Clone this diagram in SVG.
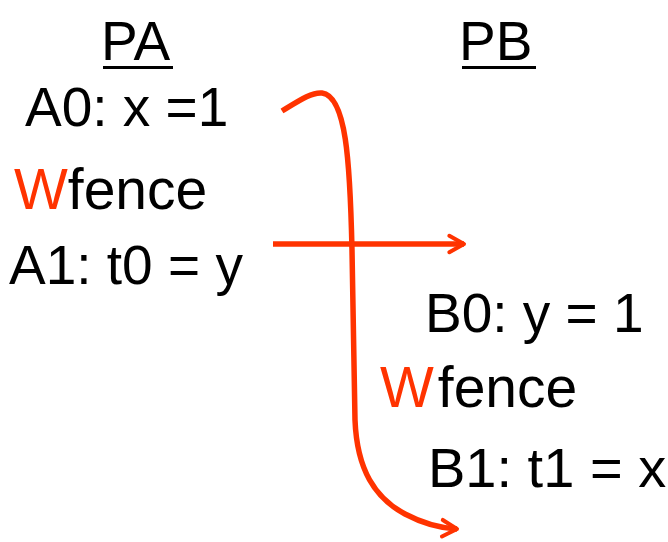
<svg xmlns="http://www.w3.org/2000/svg" width="668" height="542" viewBox="0 0 668 542">
<style>
text{font-family:"Liberation Sans",Arial,sans-serif;font-size:55px;fill:#000}
.w{font-size:57px}
.r{fill:#ff3300}
.c{fill:none;stroke:#ff3300;stroke-width:5.5;stroke-linecap:butt}
</style>
<defs>
<marker id="ah" viewBox="0 0 12 12" refX="10" refY="6" markerWidth="4" markerHeight="4" markerUnits="strokeWidth" orient="auto">
<path d="M2,1.5 L10,6 L2,10.5" fill="none" stroke="#ff3300" stroke-width="2.2" stroke-linecap="round" stroke-linejoin="round"/>
</marker>
</defs>
<rect width="668" height="542" fill="#fff"/>
<g id="pa"><text x="101" y="60">PA</text><rect x="103" y="66" width="70" height="3"/></g>
<g id="pb"><text x="459" y="60">PB</text><rect x="462" y="66" width="74" height="3"/></g>
<g id="a0"><text x="25" y="126">A0: x =1</text></g>
<g id="wfa"><text class="w" x="14" y="209"><tspan class="r">W</tspan>fence</text></g>
<g id="a1"><text x="9" y="284">A1: t0 = y</text></g>
<g id="b0"><text x="425" y="332">B0: y = 1</text></g>
<g id="wfb"><text class="w" x="380" y="407"><tspan class="r">W</tspan><tspan dx="4">fence</tspan></text></g>
<g id="b1"><text x="428" y="487" style="font-size:56px">B1: t1 = x</text></g>
<g id="connectors">
<path class="c" d="M273,244 L464,244" marker-end="url(#ah)"/>
<path class="c" d="M282,111 C300,100 312,92 322,93 C346,96 350,160 352,250 L355,420 C357,470 375,498 405,514 C422,523 438,528 457,529" marker-end="url(#ah)"/>
</g>
</svg>
